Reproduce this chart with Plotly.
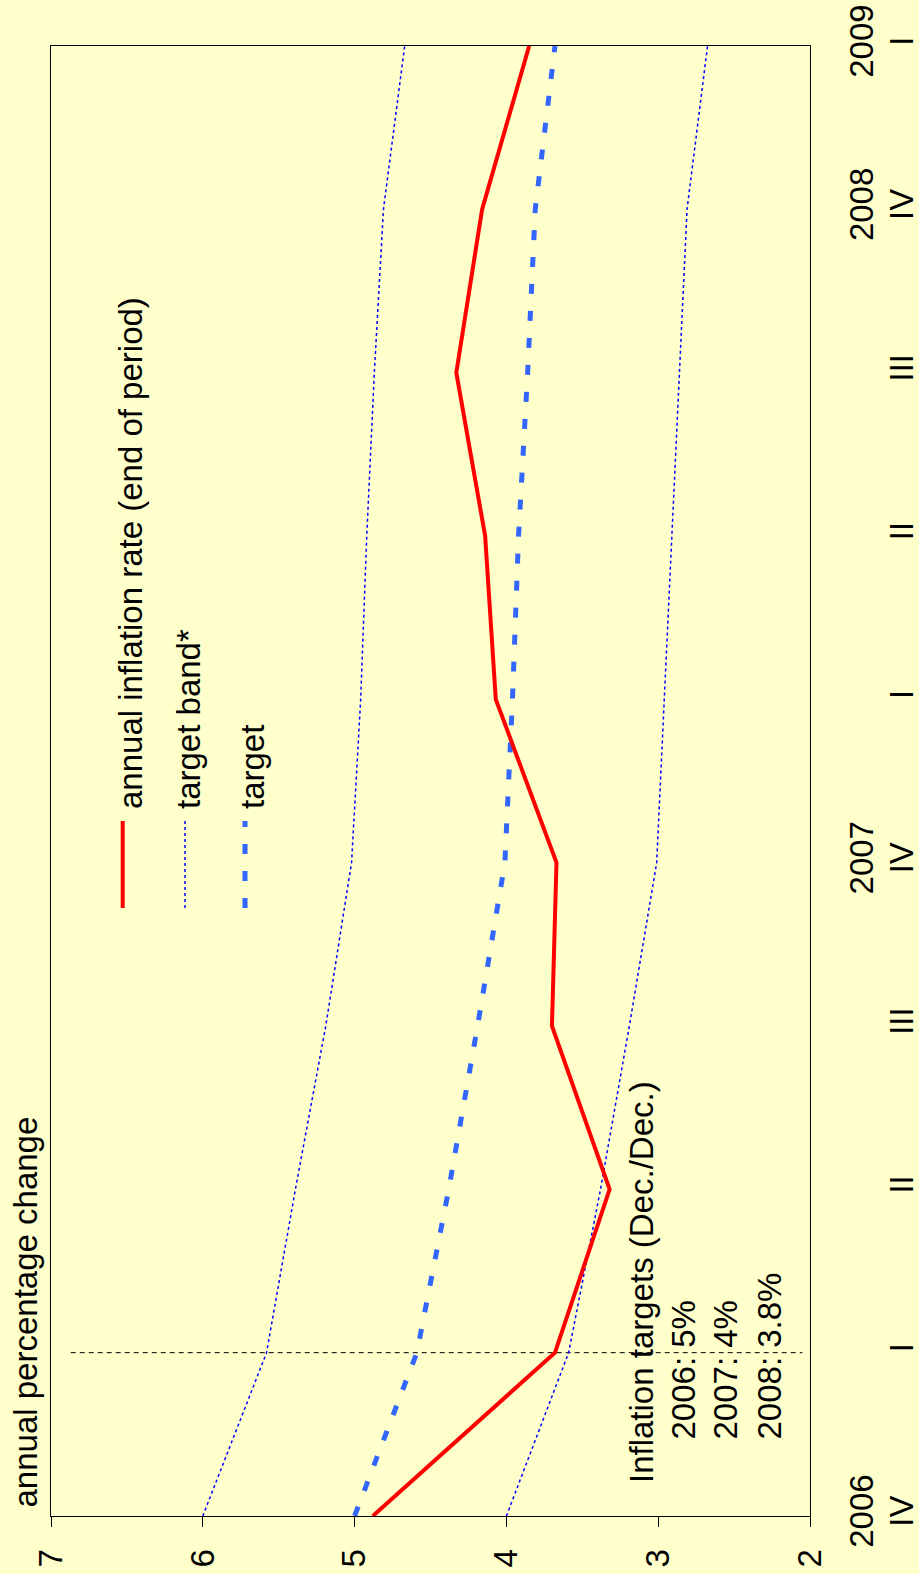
import plotly.graph_objects as go

# ---------------- data ----------------
quarters = ["2006 IV", "2007 I", "2007 II", "2007 III", "2007 IV",
            "2008 I", "2008 II", "2008 III", "2008 IV", "2009 I"]
year_labels = ["2006", "", "", "", "2007", "", "", "", "2008", "2009"]
quarter_labels = ["IV", "I", "II", "III", "IV", "I", "II", "III", "IV", "I"]

inflation = [4.88, 3.68, 3.32, 3.70, 3.67, 4.07, 4.14, 4.33, 4.16, 3.85]
target = [5.00, 4.59, 4.38, 4.19, 4.01, 3.96, 3.92, 3.86, 3.81, 3.68]
band_upper = [6.00, 5.58, 5.39, 5.19, 5.02, 4.96, 4.92, 4.87, 4.81, 4.67]
band_lower = [4.00, 3.59, 3.38, 3.19, 3.01, 2.96, 2.91, 2.86, 2.81, 2.675]

value_ticks = [7, 6, 5, 4, 3, 2]
marker_quarter = "2007 I"
marker_span = [6.87, 2.05]

legend_names = ["annual inflation rate (end of period)", "target band*", "target"]
note_lines = ["Inflation targets (Dec./Dec.)", "2006: 5%", "2007: 4%", "2008: 3.8%"]
title_text = "annual percentage change"

# ---------------- layout helpers ----------------
W, H = 919, 1574
L, R, T, B = 51, 810, 46, 1516


def px(x):
    return (x - L) / (R - L)


def py(y):
    return (B - y) / (B - T)


FONT = "Liberation Sans, Arial, sans-serif"
FS = 33
BG = "#FFFFCC"
RED = "#FF0000"
BAND = "#0000FF"
TGT = "#3366FF"

fig = go.Figure()
fig.add_trace(go.Scatter(x=marker_span, y=[marker_quarter] * 2, mode="lines",
                         line=dict(color="black", width=1, dash="5px,4px"),
                         showlegend=False, hoverinfo="skip"))
fig.add_trace(go.Scatter(x=band_upper, y=quarters, mode="lines",
                         line=dict(color=BAND, width=1.5, dash="dot"), showlegend=False))
fig.add_trace(go.Scatter(x=band_lower, y=quarters, mode="lines",
                         line=dict(color=BAND, width=1.5, dash="dot"), showlegend=False))
fig.add_trace(go.Scatter(x=target, y=quarters, mode="lines",
                         line=dict(color=TGT, width=5, dash="10px,17px"), showlegend=False))
fig.add_trace(go.Scatter(x=inflation, y=quarters, mode="lines",
                         line=dict(color=RED, width=4), showlegend=False))
# hidden carrier for the year-label axis
fig.add_trace(go.Scatter(x=inflation, y=quarters, yaxis="y2", mode="lines",
                         line=dict(width=0, color=BG), opacity=0,
                         showlegend=False, hoverinfo="skip"))

year_vals = [q for q, yl in zip(quarters, year_labels) if yl]
year_text = [yl for yl in year_labels if yl]

tickfont = dict(family=FONT, size=FS, color="black")

fig.update_layout(
    template="none",
    width=W, height=H,
    margin=dict(l=L, r=W - R, t=T, b=H - B, pad=0),
    paper_bgcolor=BG, plot_bgcolor=BG,
    showlegend=False,
    font=dict(family=FONT, size=FS, color="black"),
    xaxis=dict(range=[7, 2], tickmode="array", tickvals=value_ticks,
               ticktext=[str(v) for v in value_ticks], tickangle=-90,
               ticks="outside", ticklen=10, tickwidth=1, tickcolor="black",
               showline=True, linecolor="black", linewidth=1, mirror=True,
               showgrid=False, zeroline=False, tickfont=tickfont,
               ticklabelstandoff=9, automargin=False),
    yaxis=dict(type="category", categoryorder="array", categoryarray=quarters,
               range=[0, len(quarters) - 1], side="right",
               tickmode="array", tickvals=quarters, ticktext=quarter_labels,
               tickangle=-90, ticks="", showline=True, linecolor="black",
               linewidth=1, mirror=True, showgrid=False, zeroline=False,
               tickfont=tickfont, ticklabelstandoff=62, automargin=False),
    yaxis2=dict(type="category", categoryorder="array", categoryarray=quarters,
                range=[0, len(quarters) - 1], side="right", overlaying="y",
                tickmode="array", tickvals=year_vals, ticktext=year_text,
                tickangle=-90, ticks="", showline=False, showgrid=False,
                zeroline=False, tickfont=tickfont, ticklabelstandoff=29,
                automargin=False),
)

annotations = []
shapes = []

# axis title
annotations.append(dict(text=title_text, textangle=-90, xref="paper", yref="paper",
                        x=px(25), y=py(1510), xanchor="center", yanchor="bottom",
                        showarrow=False, font=dict(family=FONT, size=FS, color="black")))

# legend
sample_x = [122.7, 185, 245]
text_x = [130, 188, 252]
styles = [dict(color=RED, width=4), dict(color=BAND, width=1.5, dash="dot"),
          dict(color=TGT, width=5, dash="10px,17px")]
for name, sx, tx, st in zip(legend_names, sample_x, text_x, styles):
    shapes.append(dict(type="line", xref="paper", yref="paper",
                       x0=px(sx), x1=px(sx), y0=py(908), y1=py(821), line=st))
    annotations.append(dict(text=name, textangle=-90, xref="paper", yref="paper",
                            x=px(tx), y=py(811), xanchor="center", yanchor="bottom",
                            showarrow=False, font=dict(family=FONT, size=FS, color="black")))

# inflation targets note
note_x = [641, 683, 725, 769]
note_bottom = [1485, 1442, 1442, 1442]
for line, nx, nb in zip(note_lines, note_x, note_bottom):
    annotations.append(dict(text=line, textangle=-90, xref="paper", yref="paper",
                            x=px(nx), y=py(nb), xanchor="center", yanchor="bottom",
                            showarrow=False, font=dict(family=FONT, size=FS, color="black")))

fig.update_layout(annotations=annotations, shapes=shapes)
fig.write_html(
    "out.html",
    config={"displayModeBar": False},
    post_script="document.body.style.margin='0';document.body.style.background='%s';" % BG,
)
